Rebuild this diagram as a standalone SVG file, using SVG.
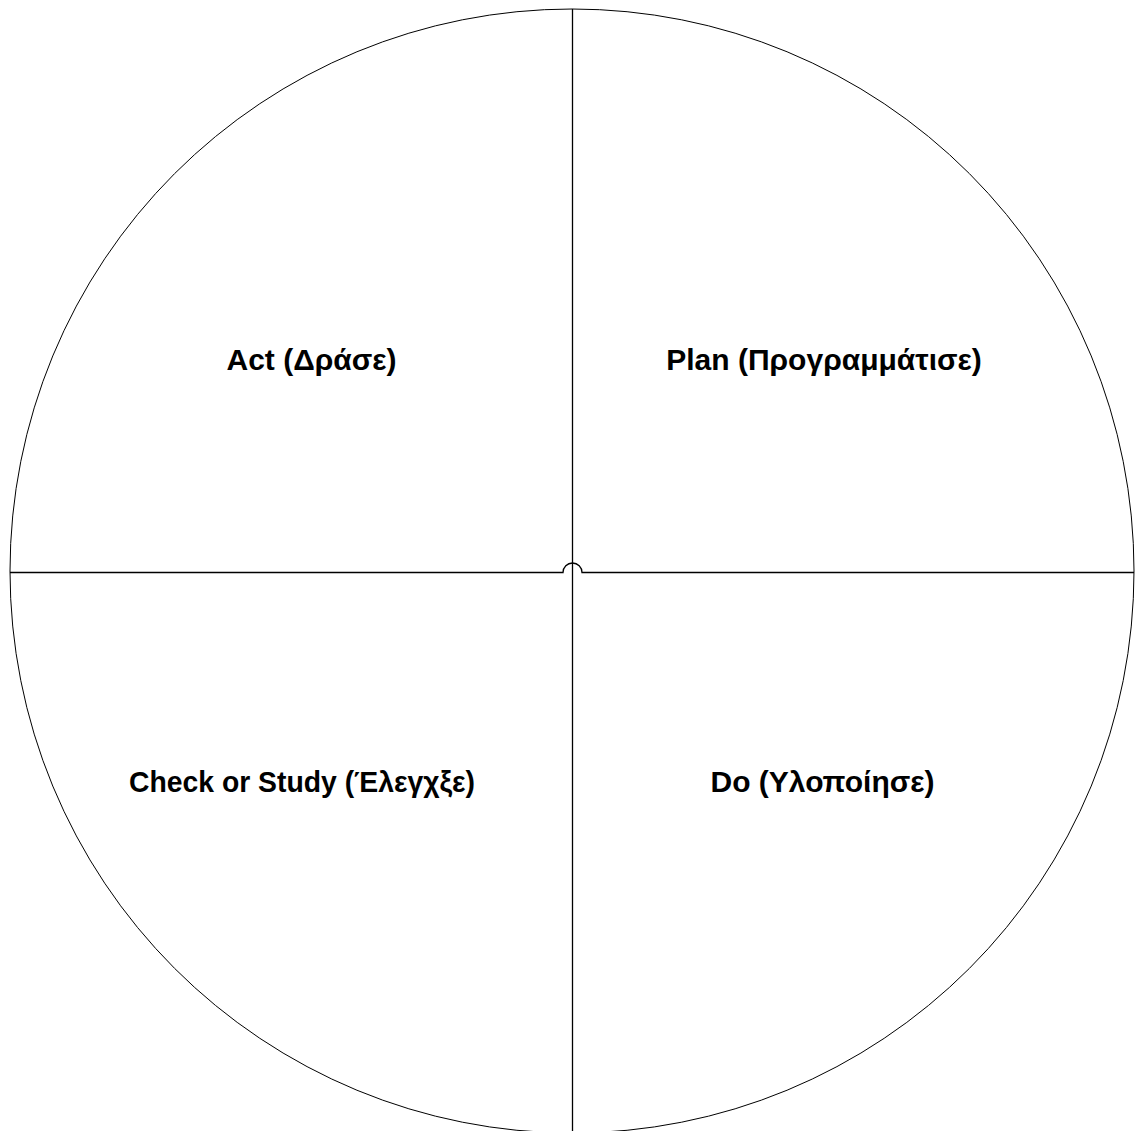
<svg xmlns="http://www.w3.org/2000/svg" width="1135" height="1131" viewBox="0 0 1135 1131">
  <style>
    .ring { fill: #ffffff; stroke: #000000; stroke-width: 1; }
    .axis { fill: none; stroke: #000000; stroke-width: 1.3; }
    .label { font-family: "Liberation Sans", Arial, sans-serif; font-weight: bold; font-size: 30px; fill: #000000; text-anchor: middle; }
  </style>
  <rect width="1135" height="1131" fill="#ffffff"/>
  <g id="cycle">
    <circle class="ring" cx="572" cy="571" r="562"/>
  </g>
  <g id="connectors">
    <!-- vertical divider -->
    <line class="axis" x1="572.5" y1="9" x2="572.5" y2="1131"/>
    <!-- horizontal divider with a hop over the vertical one -->
    <path class="axis" d="M10 572.5 H563 A9.5 9.5 0 0 1 582 572.5 H1134"/>
  </g>
  <g id="act"><text class="label" x="311.5" y="370">Act (Δράσε)</text></g>
  <g id="plan"><text class="label" x="824" y="370">Plan (Προγραμμάτισε)</text></g>
  <g id="check"><text class="label" x="302" y="792" textLength="346" lengthAdjust="spacingAndGlyphs">Check or Study (Έλεγχξε)</text></g>
  <g id="do"><text class="label" x="822.5" y="792">Do (Υλοποίησε)</text></g>
</svg>
